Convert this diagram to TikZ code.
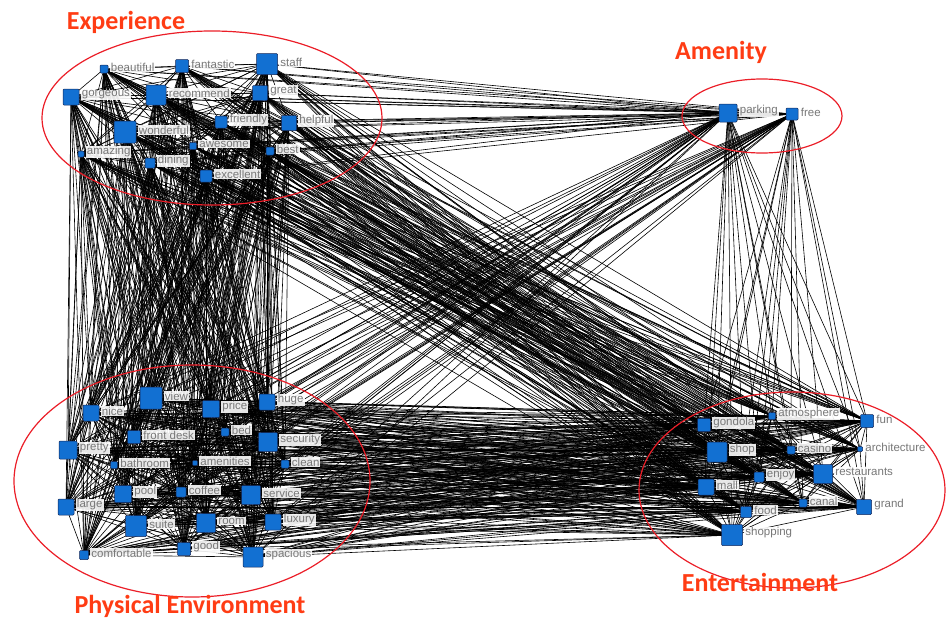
\documentclass[tikz,border=0pt]{standalone}
\usepackage{fontspec}
\setmainfont{Liberation Sans}
\newfontfamily\titlefont{Carlito}
\usetikzlibrary{backgrounds}
\definecolor{nodeblue}{RGB}{18,112,210}
\definecolor{nodeedge}{RGB}{20,40,90}
\definecolor{labelgray}{RGB}{120,120,120}
\definecolor{ringred}{RGB}{235,30,40}
\definecolor{titlered}{RGB}{255,60,20}
\tikzset{
  kw/.style={draw=nodeedge, fill=nodeblue, rounded corners=1pt, minimum size=#1, inner sep=0pt, line width=0.5pt},
  lbl/.style={fill=white, fill opacity=0.9, text opacity=1, text=labelgray, font=\fontsize{11.5}{12}\selectfont, inner sep=1pt, anchor=west},
  ring/.style={draw=ringred, line width=1.2pt},
  title/.style={text=titlered, font=\titlefont\bfseries\fontsize{26}{28}\selectfont},
  link/.style={line width=0.6pt, black}
}
\newcommand{\kwnode}[5]{\node[kw=#4pt] (#1) at (#2,#3) {};
  \node[lbl] (#1-l) at ([xshift=1.5pt,yshift=2pt]#1.east) {#5};}
\begin{document}
\begin{tikzpicture}[x=1pt,y=-1pt]
\useasboundingbox (0,0) rectangle (946,621);
% Experience
\kwnode{beautiful}{104}{69}{8}{beautiful}
\kwnode{fantastic}{182}{66}{13}{fantastic}
\kwnode{staff}{267}{64}{21}{staff}
\kwnode{gorgeous}{71}{97}{16}{gorgeous}
\kwnode{recommend}{156}{95}{20}{recommend}
\kwnode{great}{260}{93}{15}{great}
\kwnode{wonderful}{125}{132}{22}{wonderful}
\kwnode{friendly}{221}{122}{12}{friendly}
\kwnode{helpful}{289}{123}{15}{helpful}
\kwnode{amazing}{81}{154}{6}{amazing}
\kwnode{awesome}{193}{146}{7}{awesome}
\kwnode{best}{270}{151}{8}{best}
\kwnode{dining}{150}{163}{10}{dining}
\kwnode{excellent}{206}{176}{12}{excellent}
% Amenity
\kwnode{parking}{728}{113}{18}{parking}
\kwnode{free}{792}{114}{12}{free}
% Physical environment
\kwnode{view}{151}{398}{22}{view}
\kwnode{nice}{91}{413}{16}{nice}
\kwnode{price}{211}{409}{17}{price}
\kwnode{huge}{267}{402}{16}{huge}
\kwnode{frontdesk}{134}{437}{13}{front desk}
\kwnode{bed}{225}{432}{8}{bed}
\kwnode{security}{268}{442}{19}{security}
\kwnode{pretty}{68}{450}{18}{pretty}
\kwnode{bathroom}{114}{465}{7}{bathroom}
\kwnode{amenities}{195}{463}{5}{amenities}
\kwnode{clean}{285}{464}{8}{clean}
\kwnode{pool}{123}{494}{17}{pool}
\kwnode{coffee}{181}{492}{10}{coffee}
\kwnode{service}{251}{495}{19}{service}
\kwnode{large}{66}{507}{16}{large}
\kwnode{suite}{136}{526}{21}{suite}
\kwnode{room}{206}{523}{19}{room}
\kwnode{luxury}{273}{522}{16}{luxury}
\kwnode{comfortable}{84}{555}{9}{comfortable}
\kwnode{good}{184}{549}{13}{good}
\kwnode{spacious}{253}{557}{20}{spacious}
% Entertainment
\kwnode{gondola}{704}{425}{13}{gondola}
\kwnode{atmosphere}{772}{416}{7}{atmosphere}
\kwnode{fun}{867}{421}{13}{fun}
\kwnode{shop}{717}{452}{20}{shop}
\kwnode{casino}{791}{450}{8}{casino}
\kwnode{architecture}{860}{449}{5}{architecture}
\kwnode{restaurants}{823}{474}{19}{restaurants}
\kwnode{mall}{706}{487}{16}{mall}
\kwnode{enjoy}{759}{477}{10}{enjoy}
\kwnode{canal}{803}{503}{8}{canal}
\kwnode{grand}{864}{507}{15}{grand}
\kwnode{food}{746}{512}{11}{food}
\kwnode{shopping}{732}{535}{21}{shopping}
% links
\begin{pgfonlayer}{background}
\foreach \a [count=\i] in {beautiful,fantastic,staff,gorgeous,recommend,great,wonderful,friendly,helpful,amazing,awesome,best,dining,excellent,parking,free,view,nice,price,huge,frontdesk,bed,security,pretty,bathroom,amenities,clean,pool,coffee,service,large,suite,room,luxury,comfortable,good,spacious,gondola,atmosphere,fun,shop,casino,architecture,restaurants,mall,enjoy,canal,grand,food,shopping}{
  \foreach \b [count=\j] in {beautiful,fantastic,staff,gorgeous,recommend,great,wonderful,friendly,helpful,amazing,awesome,best,dining,excellent,parking,free,view,nice,price,huge,frontdesk,bed,security,pretty,bathroom,amenities,clean,pool,coffee,service,large,suite,room,luxury,comfortable,good,spacious,gondola,atmosphere,fun,shop,casino,architecture,restaurants,mall,enjoy,canal,grand,food,shopping}{
    \ifnum\j>\i \draw[link] (\a.center) -- (\b.center); \fi
  }
}
\end{pgfonlayer}
% rings
\draw[ring] (212,118) ellipse [x radius=170, y radius=87];
\draw[ring] (762,116) ellipse [x radius=80, y radius=37];
\draw[ring] (192,481) ellipse [x radius=178, y radius=116];
\draw[ring] (792,490) ellipse [x radius=153, y radius=98];
% titles
\node[title] (t-exp) at (126,22) {Experience};
\node[title] (t-amen) at (721,52) {Amenity};
\node[title] (t-phys) at (190,606) {Physical Environment};
\node[title] (t-ent) at (760,582) {Entertainment};
\end{tikzpicture}
\end{document}
